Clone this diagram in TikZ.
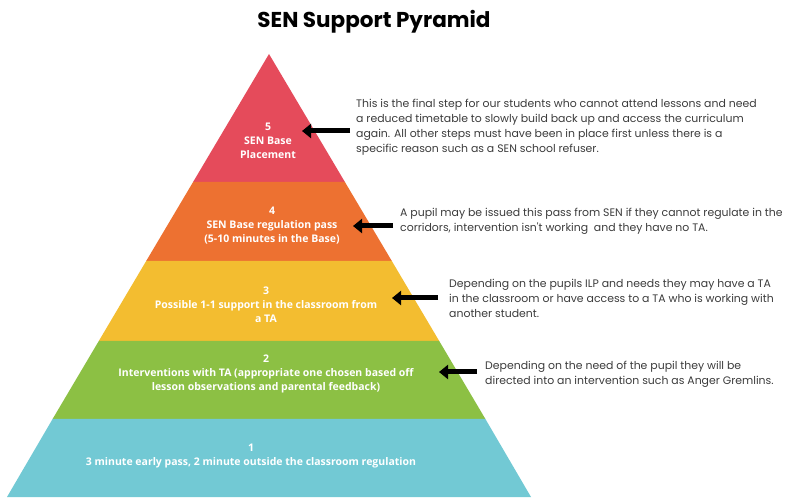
\documentclass[tikz,border=0pt]{standalone}
\usepackage{fontspec}
\usetikzlibrary{arrows.meta}
\newfontfamily\titlefont{Poppins}
\newfontfamily\descfont{Poppins}
\newfontfamily\lvlfont{Open Sans}
\definecolor{lvlred}{HTML}{E54B5B}
\definecolor{lvlorange}{HTML}{ED7131}
\definecolor{lvlyellow}{HTML}{F3BD30}
\definecolor{lvlgreen}{HTML}{8CC044}
\definecolor{lvlblue}{HTML}{72C9D4}
\definecolor{desctext}{HTML}{3C3C3C}
\tikzset{
  band/.style={draw=none},
  lvltext/.style={text=white, align=center, inner sep=0pt, font=\lvlfont\bfseries\fontsize{10.5}{14}\selectfont},
  desc/.style={text=desctext, align=left, anchor=west, inner sep=0pt, font=\descfont\fontsize{10.9}{15}\selectfont},
  bigarrow/.style={line width=5pt, -{Triangle[length=9pt,width=14pt]}, black},
}
\begin{document}
\begin{tikzpicture}[x=1pt,y=1pt]
\useasboundingbox (0,0) rectangle (787,498);
\fill[white] (0,0) rectangle (787,498);
% pyramid bands (apex 269,444 ; base 7..531 at y=1)
\fill[lvlred]    (269,444) -- (344.9,316) -- (193.1,316) -- cycle;
\fill[lvlorange] (193.1,316) -- (344.9,316) -- (391.8,237) -- (146.2,237) -- cycle;
\fill[lvlyellow] (146.2,237) -- (391.8,237) -- (439.2,157) -- (98.8,157) -- cycle;
\fill[lvlgreen]  (98.8,157) -- (439.2,157) -- (485.4,79) -- (52.6,79) -- cycle;
\fill[lvlblue]   (52.6,79) -- (485.4,79) -- (531,1) -- (7,1) -- cycle;

\node[font=\titlefont\bfseries\fontsize{21.5}{24}\selectfont, inner sep=0pt] (title) at (374,476) {SEN Support Pyramid};

\node[lvltext] (l5) at (268,357) {5\\SEN Base\\Placement};
\node[lvltext] (l4) at (272,272.5) {4\\SEN Base regulation pass\\(5-10 minutes in the Base)};
\node[lvltext] (l3) at (266,193) {3\\Possible 1-1 support in the classroom from\\a TA};
\node[lvltext] (l2) at (266,124) {2\\Interventions with TA (appropriate one chosen based off\\lesson observations and parental feedback)};
\node[lvltext] (l1) at (251,42) {1\\3 minute early pass, 2 minute outside the classroom regulation};

\node[desc] (d5) at (356,371) {This is the final step for our students who cannot attend lessons and need\\a reduced timetable to slowly build back up and access the curriculum\\again. All other steps must have been in place first unless there is a\\specific reason such as a SEN school refuser.};
\node[desc] (d4) at (400,276.5) {A pupil may be issued this pass from SEN if they cannot regulate in the\\corridors, intervention isn't working\ \ and they have no TA.};
\node[desc] (d3) at (449,199.5) {Depending on the pupils ILP and needs they may have a TA\\in the classroom or have access to a TA who is working with\\another student.};
\node[desc] (d2) at (485,124) {Depending on the need of the pupil they will be\\directed into an intervention such as Anger Gremlins.};

\coordinate (a5t) at (350,367); \coordinate (a5h) at (302,367);
\coordinate (a4t) at (393,272); \coordinate (a4h) at (353,272);
\coordinate (a3t) at (438,200); \coordinate (a3h) at (392,200);
\coordinate (a2t) at (477,126); \coordinate (a2h) at (439,126);
\draw[bigarrow] (a5t) -- (a5h);
\draw[bigarrow] (a4t) -- (a4h);
\draw[bigarrow] (a3t) -- (a3h);
\draw[bigarrow] (a2t) -- (a2h);
\end{tikzpicture}
\end{document}
